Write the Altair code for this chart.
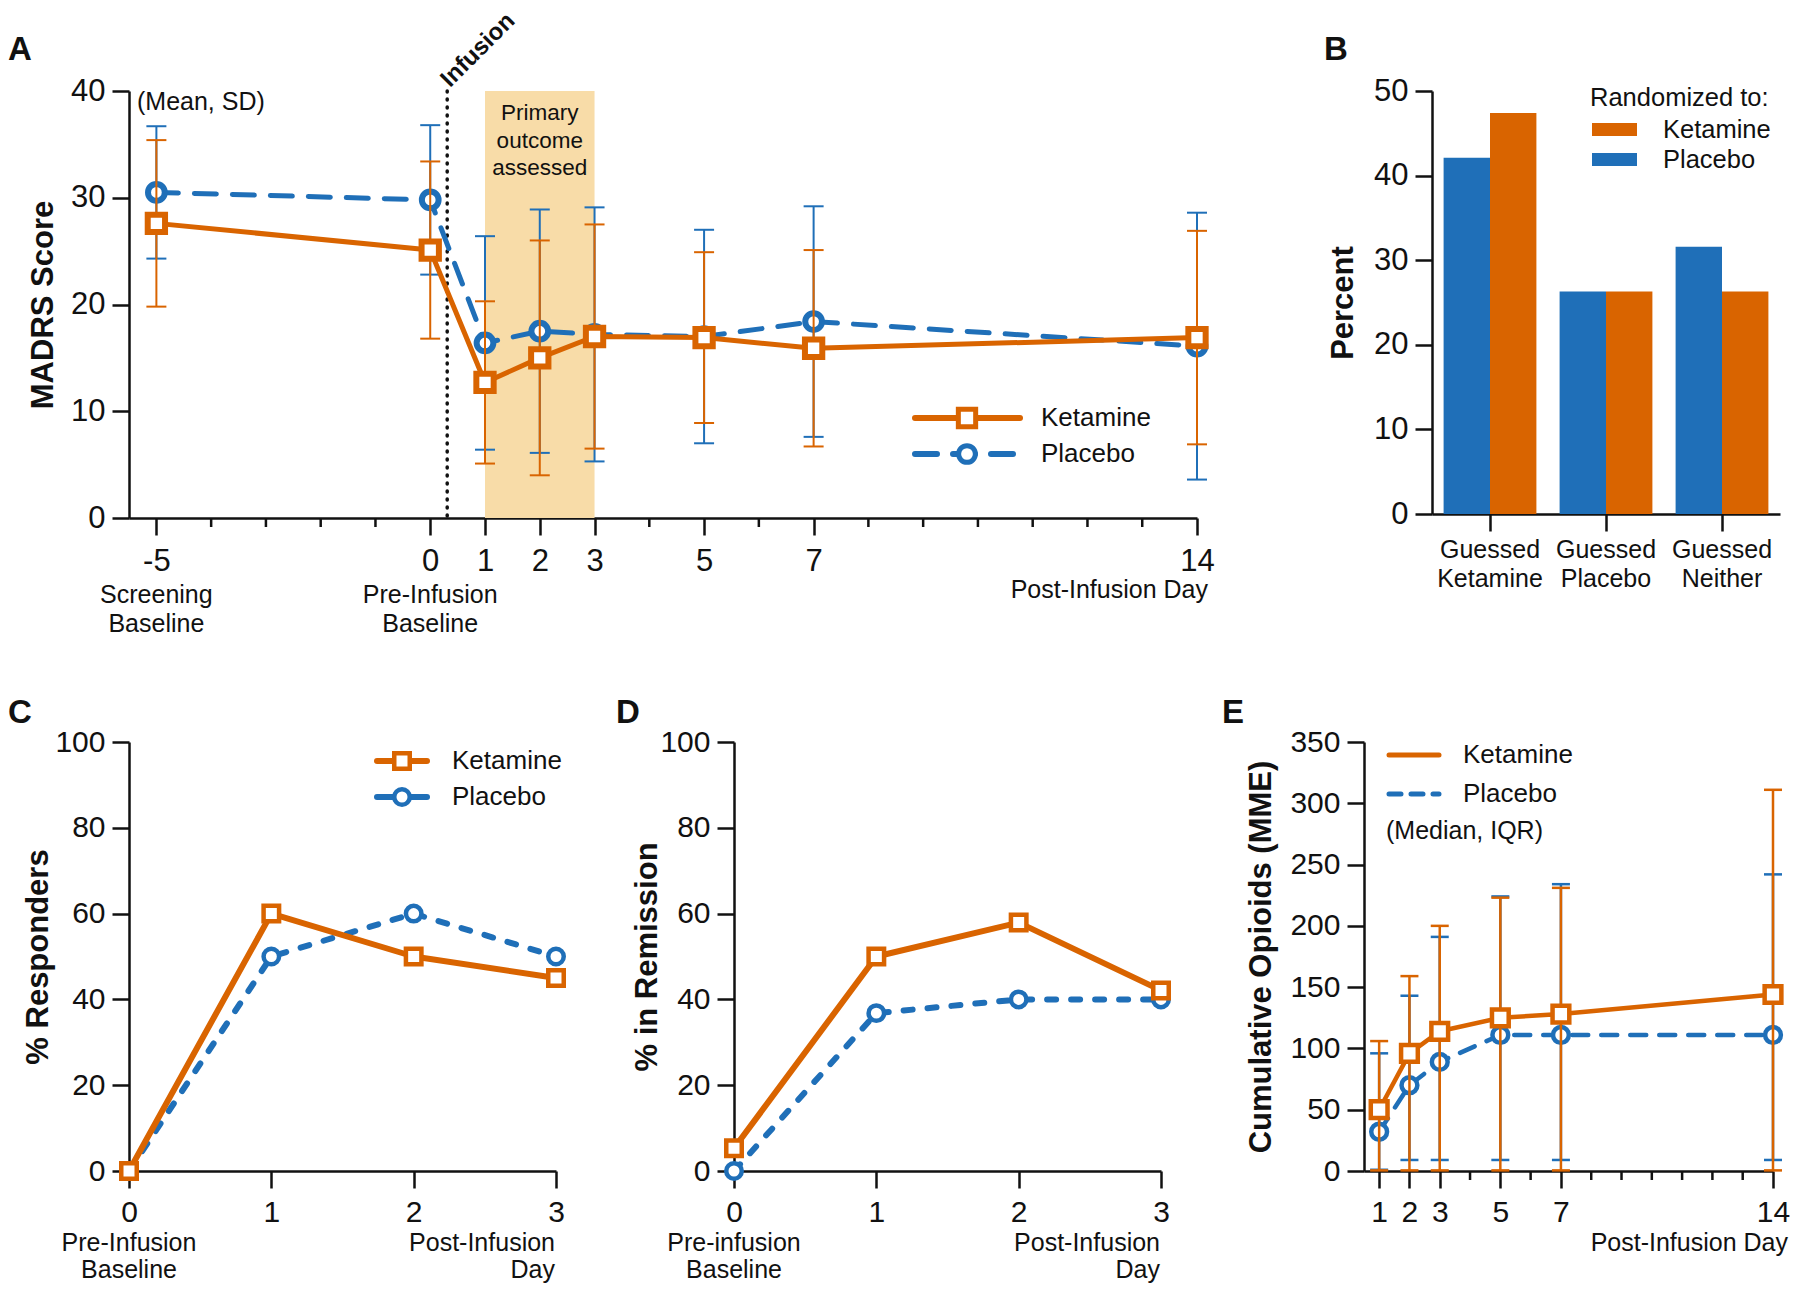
import altair as alt
import pandas as pd

FONT = "Liberation Sans"
ORANGE = "#D96400"
BLUE = "#1F6FB8"
SHADE = "#F8DCA8"
BLACK = "#111111"

# ---------------- data ----------------
# Panel A: MADRS score (mean, SD)
a_days = [-5, 0, 1, 2, 3, 5, 7, 14]
a_ket_mean = [27.6, 25.1, 12.7, 15.0, 17.0, 16.9, 15.9, 16.9]
a_ket_sd = [7.8, 8.3, 7.6, 11.0, 10.5, 8.0, 9.2, 10.0]
a_pla_mean = [30.5, 29.8, 16.4, 17.5, 17.2, 17.0, 18.4, 16.1]
a_pla_sd = [6.2, 7.0, 10.0, 11.4, 11.9, 10.0, 10.8, 12.5]
a_x_ticks = [-5, 0, 1, 2, 3, 5, 7, 14]
a_x_minor = [-4, -3, -2, -1, 4, 6, 8, 9, 10, 11, 12, 13]
a_y_ticks = [0, 10, 20, 30, 40]
a_infusion_day = [0.31]
a_window_start = [1]
a_window_end = [3]

# Panel B: blinding guesses (percent)
b_categories = ["Guessed Ketamine", "Guessed Placebo", "Guessed Neither"]
b_ketamine = [47.4, 26.3, 26.3]
b_placebo = [42.1, 26.3, 31.6]
b_y_ticks = [0, 10, 20, 30, 40, 50]

# Panels C and D
cd_days = [0, 1, 2, 3]
c_ketamine = [0, 60, 50, 45]
c_placebo = [0, 50, 60, 50]
d_ketamine = [5.3, 50, 57.9, 42.1]
d_placebo = [0, 36.8, 40, 40]
cd_y_ticks = [0, 20, 40, 60, 80, 100]

# Panel E: cumulative opioids (median, IQR)
e_days = [1, 2, 3, 5, 7, 14]
e_ket_median = [50, 96, 114, 125, 128, 144]
e_ket_q1 = [0.5, 0.5, 0.5, 0.5, 0.5, 0.5]
e_ket_q3 = [106, 159, 200, 223, 231, 311]
e_pla_median = [32, 70, 89, 111, 111, 111]
e_pla_q1 = [1, 9, 9, 9, 9, 9]
e_pla_q3 = [96, 143, 191, 224, 234, 242]
e_x_ticks = [1, 2, 3, 5, 7, 14]
e_x_minor = [4, 6, 8, 9, 10, 11, 12, 13]
e_y_ticks = [0, 50, 100, 150, 200, 250, 300, 350]

ONE = pd.DataFrame({"k": [0]})


# ---------------- helpers ----------------
def x_axis(values, size, pad):
    return alt.Axis(values=values, title=None, grid=False, labelExpr="'' + datum.value",
                    tickSize=17, tickWidth=2.5, tickColor=BLACK, domainWidth=2.5, domainColor=BLACK,
                    labelFont=FONT, labelFontSize=size, labelColor=BLACK, labelPadding=pad,
                    labelFlush=False, labelOverlap=False)


def y_axis(values, title, title_x, h, size):
    return alt.Axis(values=values, title=title, grid=False,
                    tickSize=17, tickWidth=2.5, tickColor=BLACK, domainWidth=2.5, domainColor=BLACK,
                    labelFont=FONT, labelFontSize=size, labelColor=BLACK, labelPadding=7,
                    labelFlush=False, labelOverlap=False,
                    titleFont=FONT, titleFontSize=31, titleFontWeight="bold", titleColor=BLACK,
                    titleAngle=270, titleAlign="center", titleBaseline="middle",
                    titleX=title_x, titleY=h / 2)


def series_layers(days, vals, lo, hi, X, ysc, yax, color, shape, dash, msize, lw, mw, cap=20, ew=2):
    df = pd.DataFrame({"day": days, "v": vals})
    layers = []
    if lo is not None:
        df["lo"] = lo
        df["hi"] = hi
        base = alt.Chart(df)
        layers.append(base.mark_rule(color=color, strokeWidth=ew).encode(
            x=X, y=alt.Y("lo:Q", scale=ysc, axis=yax), y2="hi:Q"))
        for f in ("lo", "hi"):
            layers.append(base.mark_tick(orient="horizontal", color=color, size=cap,
                                         thickness=ew, opacity=1).encode(
                x=X, y=alt.Y(f + ":Q", scale=ysc, axis=yax)))
    base = alt.Chart(df)
    kw = dict(color=color, strokeWidth=lw, strokeCap="round", strokeJoin="round")
    if dash:
        kw["strokeDash"] = dash
    layers.append(base.mark_line(**kw).encode(x=X, y=alt.Y("v:Q", scale=ysc, axis=yax)))
    layers.append(base.mark_point(shape=shape, filled=True, fill="white", stroke=color,
                                  strokeWidth=mw, size=msize, opacity=1).encode(
        x=X, y=alt.Y("v:Q", scale=ysc, axis=yax)))
    return layers


def minor_ticks(days, X, h, length=9):
    return alt.Chart(pd.DataFrame({"day": days})).mark_rule(color=BLACK, strokeWidth=2.5).encode(
        x=X, y=alt.value(h), y2=alt.value(h + length))


def ptext(text, x, y, size=25, align="left", baseline="middle", bold=False, lh=None):
    kw = dict(font=FONT, fontSize=size, align=align, baseline=baseline, color=BLACK)
    if bold:
        kw["fontWeight"] = "bold"
    if lh:
        kw.update(lineBreak="\n", lineHeight=lh)
    return alt.Chart(ONE).mark_text(**kw).encode(x=alt.value(x), y=alt.value(y), text=alt.value(text))


def dtext(text, xval, X, y, size=25, align="center", baseline="alphabetic", dx=0, bold=False,
          lh=None, angle=None):
    kw = dict(font=FONT, fontSize=size, align=align, baseline=baseline, color=BLACK)
    if dx:
        kw["dx"] = dx
    if bold:
        kw["fontWeight"] = "bold"
    if lh:
        kw.update(lineBreak="\n", lineHeight=lh)
    if angle:
        kw["angle"] = angle
    df = pd.DataFrame({"day": [xval], "t": [text]})
    return alt.Chart(df).mark_text(**kw).encode(x=X, y=alt.value(y), text="t:N")


def leg_line(x1, x2, y, color, dash=None, lw=6):
    kw = dict(color=color, strokeWidth=lw, strokeCap="round")
    if dash:
        kw["strokeDash"] = dash
    return alt.Chart(ONE).mark_rule(**kw).encode(x=alt.value(x1), x2=alt.value(x2), y=alt.value(y))


def leg_marker(x, y, shape, color, size, mw):
    return alt.Chart(ONE).mark_point(shape=shape, filled=True, fill="white", stroke=color,
                                     strokeWidth=mw, size=size, opacity=1).encode(
        x=alt.value(x), y=alt.value(y))


def cell(x1, x2, y1, y2):
    # invisible box fixing the panel's footprint in the layout
    return alt.Chart(ONE).mark_rect(opacity=0).encode(
        x=alt.value(x1), x2=alt.value(x2), y=alt.value(y1), y2=alt.value(y2))


TOP1 = -81  # top of the first row's footprint, relative to its plot areas

# ---------------- Panel A ----------------
WA, HA = 1068, 427
xsA = alt.Scale(domain=[-5.5, 14], nice=False, zero=False)
ysA = alt.Scale(domain=[0, 40], nice=False)
axXA = x_axis(a_x_ticks, 31, 11)
axYA = y_axis(a_y_ticks, "MADRS Score", -86, HA, 31)
XA = alt.X("day:Q", scale=xsA, axis=axXA)

a_ket_lo = [m - s for m, s in zip(a_ket_mean, a_ket_sd)]
a_ket_hi = [m + s for m, s in zip(a_ket_mean, a_ket_sd)]
a_pla_lo = [m - s for m, s in zip(a_pla_mean, a_pla_sd)]
a_pla_hi = [m + s for m, s in zip(a_pla_mean, a_pla_sd)]

shadeA = alt.Chart(pd.DataFrame({"s": a_window_start, "e": a_window_end})).mark_rect(
    color=SHADE).encode(x=alt.X("s:Q", scale=xsA, axis=axXA), x2="e:Q",
                        y=alt.value(0), y2=alt.value(HA))
infA = alt.Chart(pd.DataFrame({"day": a_infusion_day})).mark_rule(
    color=BLACK, strokeWidth=3.5, strokeDash=[1, 7], strokeCap="round").encode(
    x=XA, y=alt.value(0), y2=alt.value(HA))

layersA = [cell(-121, 1171, TOP1, 578), shadeA, infA]
layersA += series_layers(a_days, a_pla_mean, a_pla_lo, a_pla_hi, XA, ysA, axYA, BLUE, "circle",
                         [22, 16], 280, 5, 6)
layersA += series_layers(a_days, a_ket_mean, a_ket_lo, a_ket_hi, XA, ysA, axYA, ORANGE, "square",
                         None, 300, 5, 6)
layersA += [
    minor_ticks(a_x_minor, XA, HA),
    ptext("(Mean, SD)", 8, 11, 25),
    dtext("Primary\noutcome\nassessed", 2, XA, 22, size=22.5, baseline="middle", lh=27.5),
    dtext("Infusion", a_infusion_day[0], XA, 0, size=24, align="left", dx=4, bold=True, angle=315),
    dtext("Screening\nBaseline", -5, XA, HA + 85, lh=29),
    dtext("Pre-Infusion\nBaseline", 0, XA, HA + 85, lh=29),
    dtext("Post-Infusion Day", 14, XA, HA + 80, align="right", dx=11),
    ptext("A", -121, -31, 33, baseline="alphabetic", bold=True),
    leg_line(786, 891, 327, ORANGE),
    leg_marker(838, 327, "square", ORANGE, 300, 5),
    ptext("Ketamine", 912, 327, 26),
    leg_line(786, 891, 363, BLUE, dash=[22, 16]),
    leg_marker(838, 363, "circle", BLUE, 280, 5),
    ptext("Placebo", 912, 363, 26),
]
panelA = alt.layer(*layersA).properties(width=WA, height=HA)

# ---------------- Panel B ----------------
WB, HB = 348, 423
dfB = pd.DataFrame({
    "guess": b_categories * 2,
    "group": ["Ketamine"] * 3 + ["Placebo"] * 3,
    "pct": b_ketamine + b_placebo,
})
barsB = alt.Chart(dfB).mark_bar().encode(
    x=alt.X("guess:N", sort=b_categories,
            scale=alt.Scale(paddingInner=0.2, paddingOuter=0.1),
            axis=alt.Axis(title=None, labelExpr="split(datum.label, ' ')", labelAngle=0,
                          labelFont=FONT, labelFontSize=25, labelColor=BLACK, labelLineHeight=29,
                          labelBaseline="top", labelPadding=6, tickSize=17, tickWidth=2.5,
                          tickColor=BLACK, domainWidth=2.5, domainColor=BLACK, grid=False)),
    xOffset=alt.XOffset("group:N", sort=["Placebo", "Ketamine"]),
    y=alt.Y("pct:Q", scale=alt.Scale(domain=[0, 50], nice=False),
            axis=y_axis(b_y_ticks, "Percent", -89, HB, 31)),
    color=alt.Color("group:N", scale=alt.Scale(domain=["Ketamine", "Placebo"], range=[ORANGE, BLUE]),
                    legend=None),
)
swatchK = alt.Chart(ONE).mark_rect(color=ORANGE).encode(
    x=alt.value(160), x2=alt.value(205), y=alt.value(32), y2=alt.value(45))
swatchP = alt.Chart(ONE).mark_rect(color=BLUE).encode(
    x=alt.value(160), x2=alt.value(205), y=alt.value(62), y2=alt.value(75))
panelB = alt.layer(
    cell(-132, 358, TOP1, 578),
    barsB,
    ptext("Randomized to:", 158, 15, 25.5, baseline="alphabetic"),
    swatchK, swatchP,
    ptext("Ketamine", 231, 39, 25.5),
    ptext("Placebo", 231, 68.5, 25.5),
    ptext("B", -108, -31, 33, baseline="alphabetic", bold=True),
).properties(width=WB, height=HB)

# ---------------- Panels C and D ----------------
WC, HC = 427, 429


def panel_cd(ket, pla, title, title_x, letter, letter_x, pre_text, legend, box):
    xs = alt.Scale(domain=[0, 3], nice=False, zero=False)
    ys = alt.Scale(domain=[0, 100], nice=False)
    X = alt.X("day:Q", scale=xs, axis=x_axis(cd_days, 30, 9))
    yax = y_axis(cd_y_ticks, title, title_x, HC, 30)
    layers = [cell(*box)]
    layers += series_layers(cd_days, pla, None, None, X, ys, yax, BLUE, "circle", [9, 15], 240, 6, 4.5)
    layers += series_layers(cd_days, ket, None, None, X, ys, yax, ORANGE, "square", None, 240, 6, 4.5)
    layers += [
        dtext(pre_text, 0, X, HC + 80, lh=27),
        dtext("Post-Infusion\nDay", 3, X, HC + 80, align="right", dx=-1, lh=27),
        ptext(letter, letter_x, -19, 33, baseline="alphabetic", bold=True),
    ]
    if legend:
        layers += [
            leg_line(248, 298, 19, ORANGE),
            leg_marker(273, 19, "square", ORANGE, 240, 4.5),
            ptext("Ketamine", 323, 19, 26),
            leg_line(248, 298, 55, BLUE),
            leg_marker(273, 55, "circle", BLUE, 240, 4.5),
            ptext("Placebo", 323, 55, 26),
        ]
    return alt.layer(*layers).properties(width=WC, height=HC)


panelC = panel_cd(c_ketamine, c_placebo, "% Responders", -91, "C", -121, "Pre-Infusion\nBaseline", True,
                  (-121, 471, -73, 541))
panelD = panel_cd(d_ketamine, d_placebo, "% in Remission", -87, "D", -118, "Pre-infusion\nBaseline", False,
                  (-134, 476, -73, 541))

# ---------------- Panel E ----------------
WE, HE = 409, 429
xsE = alt.Scale(domain=[0.5, 14], nice=False, zero=False)
ysE = alt.Scale(domain=[0, 350], nice=False)
XE = alt.X("day:Q", scale=xsE, axis=x_axis(e_x_ticks, 30, 9))
axYE = y_axis(e_y_ticks, "Cumulative Opioids (MME)", -103, HE, 30)
layersE = [cell(-154, 427, -73, 541)]
layersE += series_layers(e_days, e_pla_median, e_pla_q1, e_pla_q3, XE, ysE, axYE, BLUE, "circle",
                         [16, 13], 250, 4.5, 4.5, cap=18, ew=2.5)
layersE += series_layers(e_days, e_ket_median, e_ket_q1, e_ket_q3, XE, ysE, axYE, ORANGE, "square",
                         None, 280, 4.5, 4.5, cap=18, ew=2.5)
layersE += [
    minor_ticks(e_x_minor, XE, HE),
    dtext("Post-Infusion Day", 14, XE, HE + 80, align="right", dx=15),
    ptext("E", -142, -19, 33, baseline="alphabetic", bold=True),
    leg_line(25, 75, 13, ORANGE, lw=5),
    ptext("Ketamine", 99, 13, 26),
    leg_line(25, 75, 52, BLUE, dash=[12, 10], lw=5),
    ptext("Placebo", 99, 52, 26),
    ptext("(Median, IQR)", 22, 89, 25),
]
panelE = alt.layer(*layersE).properties(width=WE, height=HE)

# ---------------- layout ----------------
row1 = alt.hconcat(panelA, panelB, spacing=0)
row2 = alt.hconcat(panelC, panelD, panelE, spacing=0)
chart = (
    alt.vconcat(row1, row2, spacing=0)
    .properties(padding=0)
    .configure(font=FONT)
    .configure_view(stroke="transparent", strokeWidth=0)
)

chart.save("out.html", embed_options={"renderer": "svg", "actions": False})
